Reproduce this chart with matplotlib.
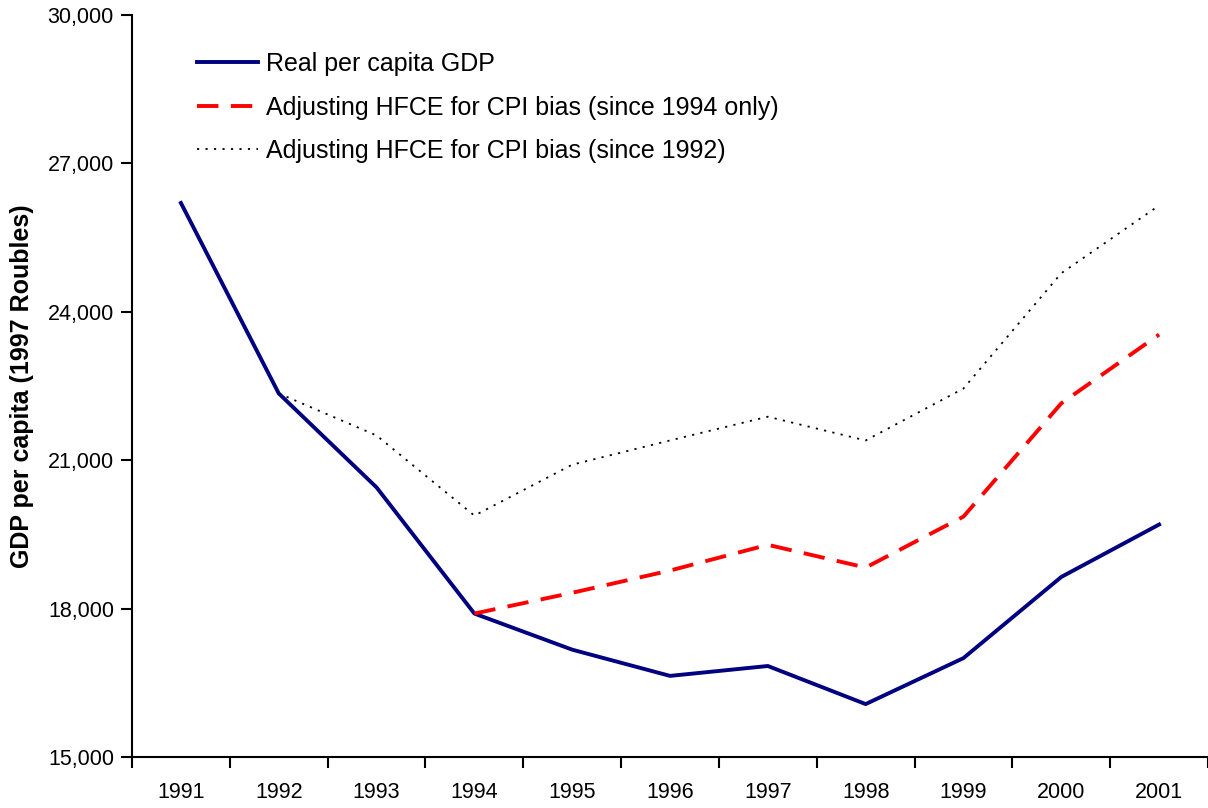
import matplotlib
matplotlib.use("Agg")
import matplotlib.pyplot as plt
from matplotlib.ticker import FixedLocator, FuncFormatter

years = ["1991", "1992", "1993", "1994", "1995", "1996", "1997", "1998", "1999", "2000", "2001"]
real_gdp = [26200, 22350, 20450, 17900, 17170, 16640, 16840, 16070, 17000, 18640, 19700]
adj_1994 = [None, None, None, 17900, 18320, 18770, 19290, 18830, 19860, 22150, 23540]
adj_1992 = [None, 22350, 21500, 19880, 20910, 21400, 21880, 21400, 22450, 24780, 26150]

plt.rcParams['font.family'] = ['Liberation Sans', 'DejaVu Sans']

fig = plt.figure(figsize=(12.08, 8.08), dpi=100)
ax = fig.add_axes([0.1093, 0.0631, 0.8907, 0.9183])

x = list(range(len(years)))

def seg(vals):
    xs = [i for i, v in zip(x, vals) if v is not None]
    ys = [v for v in vals if v is not None]
    return xs, ys

ax.plot(x, real_gdp, color="#000080", lw=2.8, label="Real per capita GDP")
xs, ys = seg(adj_1994)
ax.plot(xs, ys, color="#ff0000", lw=2.8, dashes=(5.5, 3.2), label="Adjusting HFCE for CPI bias (since 1994 only)")
xs, ys = seg(adj_1992)
ax.plot(xs, ys, color="black", lw=1.3, dashes=(1.2, 3.5), label="Adjusting HFCE for CPI bias (since 1992)")

ax.set_xlim(-0.5, 10.5)
ax.set_ylim(15000, 30000)
ax.set_yticks([15000, 18000, 21000, 24000, 27000, 30000])
ax.yaxis.set_major_formatter(FuncFormatter(lambda v, p: f"{int(v):,}"))

ax.xaxis.set_major_locator(FixedLocator([i - 0.5 for i in range(len(years) + 1)]))
ax.xaxis.set_major_formatter(FuncFormatter(lambda v, p: ""))
ax.xaxis.set_minor_locator(FixedLocator(x))
ax.set_xticklabels(years, minor=True)
ax.tick_params(axis='x', which='minor', length=0, pad=18, labelsize=15.5)
ax.tick_params(axis='x', which='major', length=8, width=1.5, direction='out')
ax.tick_params(axis='y', which='major', length=8, width=1.5, direction='out', labelsize=15.5, pad=5)

for s in ['top', 'right']:
    ax.spines[s].set_visible(False)
for s in ['left', 'bottom']:
    ax.spines[s].set_linewidth(1.5)

ax.set_ylabel("GDP per capita (1997 Roubles)", fontsize=18, fontweight='bold')
ax.yaxis.set_label_coords(-0.091, 0.5)

leg = ax.legend(loc='upper left', bbox_to_anchor=(0.0604, 0.950), frameon=False, fontsize=18,
                handlelength=2.45, handletextpad=0.3, labelspacing=0.78,
                borderpad=0, borderaxespad=0)

fig.savefig("out.png", dpi=100)
